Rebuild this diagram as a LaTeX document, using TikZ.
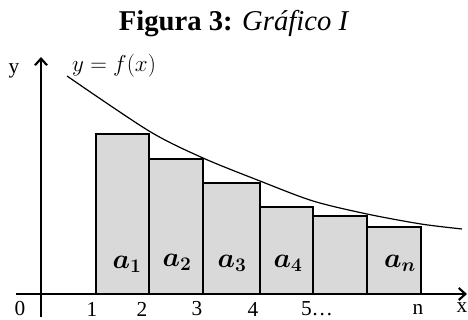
\documentclass[tikz,border=0pt]{standalone}
\usepackage{amsmath,amssymb}
\usepackage{bm}
\usepackage{fontspec}
\setmainfont{Liberation Serif}
\usetikzlibrary{arrows.meta}

\tikzset{
  axis/.style={line width=1.9pt,-{Straight Barb[length=5pt,width=9pt,line width=1.6pt]}},
  bar/.style={draw,line width=1.1pt,fill=black!15},
  tick/.style={font=\fontsize{16}{18}\selectfont,inner sep=0pt},
  area/.style={font=\fontsize{20}{22}\selectfont,inner sep=0pt}
}

\begin{document}
\begin{tikzpicture}[x=0.75pt,y=-0.75pt]
            \useasboundingbox (0,0) rectangle (468,320);
            % title
            \node (T) at (234,24) {\fontsize{21.5}{25}\selectfont\textbf{Figura 3:} \textit{Gráfico I}};
            % bars
            \draw[bar] (96,294) rectangle (149,134);
            \draw[bar] (149,294) rectangle (203,159);
            \draw[bar] (203,294) rectangle (260,183);
            \draw[bar] (260,294) rectangle (313,207);
            \draw[bar] (313,294) rectangle (367,216);
            \draw[bar] (367,294) rectangle (421,227);
            % axes
            \coordinate (XS) at (16,294);
            \coordinate (XE) at (467,294);
            \coordinate (YS) at (41,317);
            \coordinate (YE) at (41,57);
            \draw[axis] (XS) to (XE);
            \draw[axis] (YS) to (YE);
            % curve
            \draw[line width=0.9pt] plot[smooth] coordinates {(67,76) (149,131) (203,158) (260,181) (313,201) (367,214) (421,224) (462,229)};
            % labels
            \node[tick] (Ly) at (14,71) {y};
            \node[tick,font=\fontsize{19}{21}\selectfont] (Lf) at (114,66) {$y = f(x)$};
            \node[tick] (L0) at (20,309) {0};
            \node[tick] (L1) at (92,309) {1};
            \node[tick] (L2) at (142,309) {2};
            \node[tick] (L3) at (197,309) {3};
            \node[tick] (L4) at (253,309) {4};
            \node[tick] (L5) at (317,309) {5\dots};
            \node[tick] (Ln) at (418,309) {n};
            \node[tick] (Lx) at (462,308) {x};
            \node[area] (A1) at (127,264) {$\bm{a_1}$};
            \node[area] (A2) at (177,262) {$\bm{a_2}$};
            \node[area] (A3) at (232,263) {$\bm{a_3}$};
            \node[area] (A4) at (288,263) {$\bm{a_4}$};
            \node[area] (An) at (400,263) {$\bm{a_n}$};
        \end{tikzpicture}
\end{document}
